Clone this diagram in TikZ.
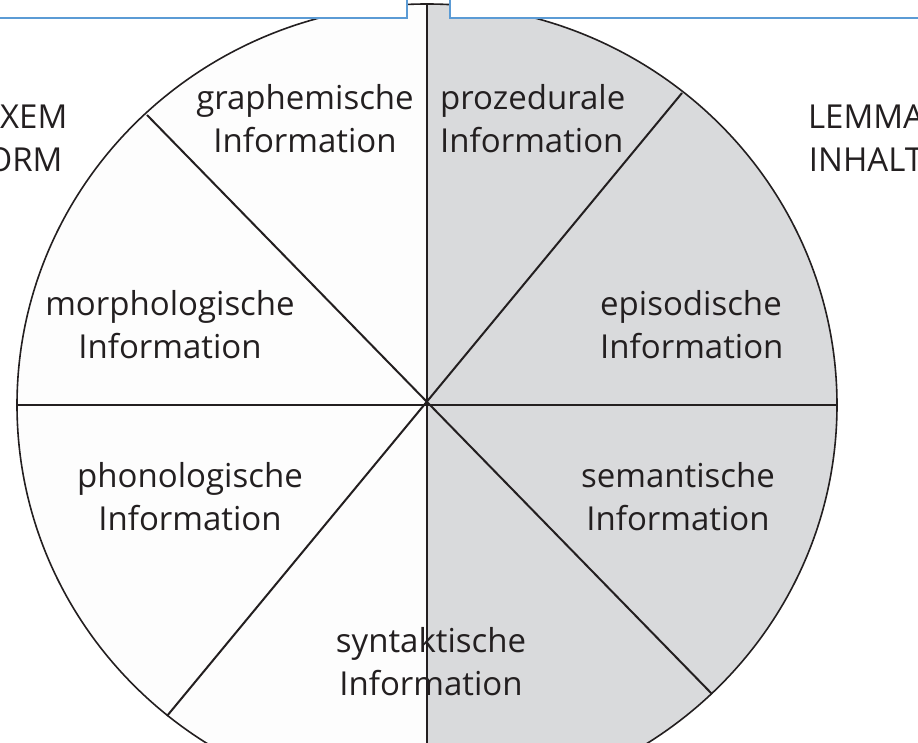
\documentclass[tikz,border=0pt]{standalone}
\usepackage{fontspec}
\setmainfont{Open Sans}
\definecolor{halfgray}{RGB}{217,218,220}
\definecolor{halfwhite}{RGB}{253,253,253}
\definecolor{boxblue}{RGB}{91,155,213}
\definecolor{inkgray}{RGB}{35,31,32}
\begin{document}
\begin{tikzpicture}[x=1pt,y=1pt,
spoke/.style={draw=inkgray,line width=2pt},
info/.style={font=\fontsize{33}{43}\selectfont,align=center,text=inkgray,inner sep=0pt},
frame/.style={draw=boxblue,fill=white,line width=2.6pt}]
\useasboundingbox (0,0) rectangle (918,742);
\clip (0,0) rectangle (918,742);
\coordinate (M) at (427,337);
\coordinate (T) at (427,738);
\coordinate (B) at (427,-64);
\coordinate (L) at (17,337);
\coordinate (R) at (837,337);
\coordinate (TL) at (147,627);
\coordinate (BR) at (712,48);
\coordinate (TR) at (682,649);
\coordinate (BL) at (167,26);
% two halves
\fill[halfwhite] (M) -- ++(0,401) arc[start angle=90,end angle=270,x radius=410,y radius=401] -- cycle;
\fill[halfgray] (M) -- ++(0,-401) arc[start angle=-90,end angle=90,x radius=410,y radius=401] -- cycle;
\draw[inkgray,line width=1.6pt] (M) ellipse[x radius=410,y radius=401];
% spokes
\draw[spoke] (T) -- (B);
\draw[spoke] (L) -- (R);
\draw[spoke] (TL) -- (BR);
\draw[spoke] (TR) -- (BL);
% boxes above
\draw[frame] (-10,724) rectangle (407,760);
\draw[frame] (450,724) rectangle (930,760);
% labels
\node[info] (graph) at (305,623) {graphemische\\Information};
\node[info,align=left,anchor=west] (proz) at (440,623) {prozedurale\\Information};
\node[info] (morph) at (170,417) {morphologische\\Information};
\node[info,align=left,anchor=west] (epis) at (600,417) {episodische\\Information};
\node[info] (phon) at (190,245) {phonologische\\Information};
\node[info] (sem) at (678,245) {semantische\\Information};
\node[info] (synt) at (431,80) {syntaktische\\Information};
\node[info] (form) at (16,604) {LEXEM\\FORM};
\node[info] (inhalt) at (866,604) {LEMMA\\INHALT};
\end{tikzpicture}
\end{document}
